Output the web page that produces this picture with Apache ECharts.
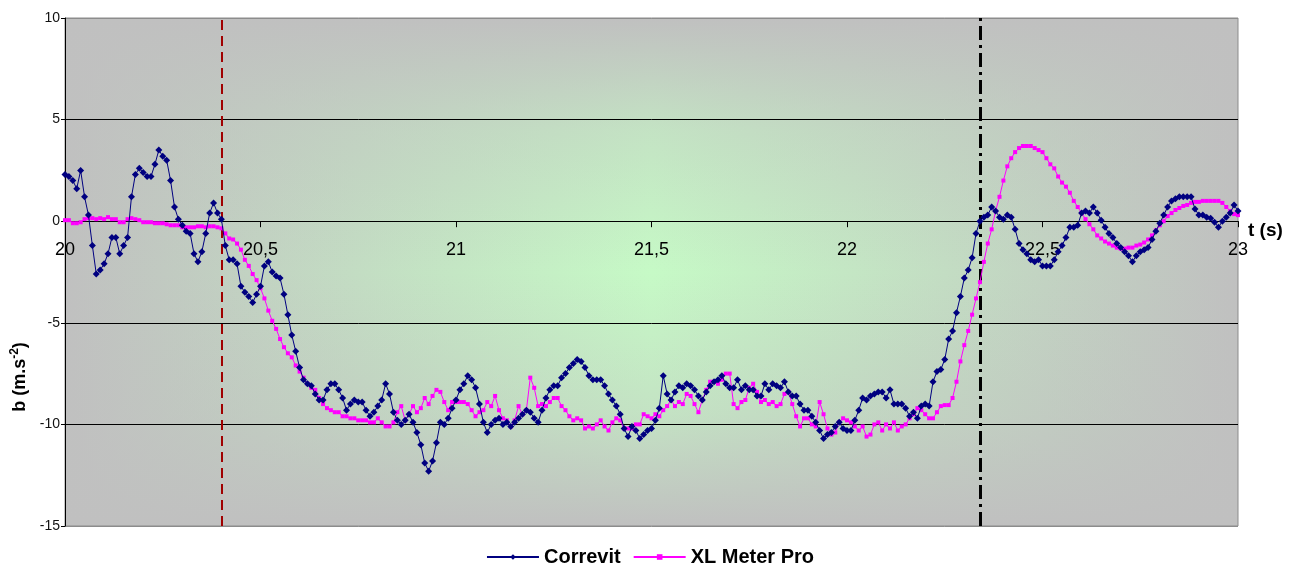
<!DOCTYPE html>
<html>
<head>
<meta charset="utf-8">
<script src="https://cdn.jsdelivr.net/npm/echarts@6/dist/echarts.min.js"></script>
<style>
html,body{margin:0;padding:0;background:#fff;}
#c{width:1300px;height:574px;}
</style>
</head>
<body>
<div id="c"></div>
<script>
// sampling of both recordings: t = T0 + i*DT
const T0 = 20.0;
const DT = 0.01;

const xTicks = [20, 20.5, 21, 21.5, 22, 22.5, 23];
const yTicks = [-15, -10, -5, 0, 5, 10];

// event markers (s)
const brakeStart = 20.403;
const brakeEnd = 22.345;

const seriesNames = ['Correvit', 'XL Meter Pro'];

const correvit = [
 2.3, 2.2, 2.0, 1.6, 2.5, 1.2, 0.3, -1.2, -2.6, -2.4,
 -2.1, -1.6, -0.8, -0.8, -1.6, -1.2, -0.8, 1.2, 2.3, 2.6,
 2.4, 2.2, 2.2, 2.8, 3.5, 3.2, 3.0, 2.0, 0.7, 0.1,
 -0.2, -0.5, -0.6, -1.6, -2.0, -1.5, -0.6, 0.4, 0.9, 0.4,
 0.1, -1.2, -1.9, -1.9, -2.1, -3.2, -3.5, -3.7, -4.0, -3.6,
 -3.2, -2.2, -2.0, -2.5, -2.7, -2.8, -3.6, -4.6, -5.6, -6.4,
 -7.2, -7.8, -8.0, -8.1, -8.5, -8.8, -8.8, -8.3, -8.0, -8.0,
 -8.3, -8.7, -9.3, -9.0, -8.8, -8.9, -8.9, -9.3, -9.6, -9.4,
 -9.1, -8.8, -8.0, -8.5, -9.4, -9.8, -10.0, -9.8, -9.5, -9.9,
 -10.4, -11.0, -11.9, -12.3, -11.8, -10.9, -9.9, -10.0, -9.7, -9.2,
 -8.8, -8.3, -8.0, -7.6, -7.8, -8.2, -9.0, -9.9, -10.4, -10.0,
 -9.8, -9.7, -10.0, -9.9, -10.1, -9.9, -9.7, -9.5, -9.3, -9.4,
 -9.7, -9.9, -9.3, -8.7, -8.3, -8.1, -8.1, -7.7, -7.5, -7.2,
 -7.0, -6.8, -6.9, -7.2, -7.6, -7.8, -7.8, -7.8, -8.1, -8.5,
 -8.8, -9.1, -9.5, -10.2, -10.6, -10.1, -10.3, -10.7, -10.5, -10.3,
 -10.2, -9.8, -9.2, -7.6, -8.5, -8.8, -8.4, -8.1, -8.2, -8.0,
 -8.1, -8.3, -8.6, -8.8, -8.4, -8.1, -7.9, -7.8, -7.6, -8.0,
 -8.2, -8.2, -7.8, -8.3, -8.1, -8.3, -8.3, -8.6, -8.6, -8.0,
 -8.3, -8.0, -8.1, -8.2, -7.9, -8.4, -8.6, -8.6, -9.0, -9.3,
 -9.3, -9.6, -9.9, -10.3, -10.7, -10.5, -10.4, -10.1, -9.9, -10.2,
 -10.3, -10.3, -9.8, -9.3, -8.7, -8.8, -8.6, -8.5, -8.4, -8.4,
 -8.7, -8.3, -9.0, -9.0, -9.0, -9.2, -9.6, -9.4, -9.7, -9.1,
 -9.0, -9.1, -7.9, -7.4, -7.3, -6.8, -5.8, -5.4, -4.5, -3.7,
 -2.8, -2.4, -1.8, -0.6, 0.0, 0.2, 0.3, 0.7, 0.5, 0.2,
 0.1, 0.3, 0.2, -0.4, -1.1, -1.4, -1.6, -1.9, -2.0, -1.9,
 -2.2, -2.2, -2.2, -1.9, -1.5, -1.2, -0.8, -0.3, -0.3, -0.2,
 0.4, 0.5, 0.4, 0.7, 0.4, 0.05, -0.3, -0.6, -0.8, -1.1,
 -1.3, -1.5, -1.7, -2.0, -1.7, -1.5, -1.4, -1.3, -0.9, -0.5,
 -0.1, 0.3, 0.7, 1.0, 1.1, 1.2, 1.2, 1.2, 1.2, 0.6,
 0.3, 0.3, 0.2, 0.15, -0.05, -0.3, 0.0, 0.2, 0.4, 0.8,
 0.5
];

const xlMeter = [
 0.05, 0.05, -0.1, -0.1, -0.05, 0.1, 0.15, 0.15, 0.1, 0.15,
 0.1, 0.2, 0.1, 0.1, -0.05, -0.05, 0.1, 0.15, 0.1, 0.05,
 -0.05, -0.05, -0.05, -0.1, -0.1, -0.1, -0.15, -0.2, -0.2, -0.2,
 -0.3, -0.3, -0.3, -0.3, -0.25, -0.25, -0.3, -0.25, -0.25, -0.3,
 -0.35, -0.6, -0.85, -0.9, -1.1, -1.4, -1.9, -2.2, -2.6, -2.9,
 -3.3, -3.8, -4.4, -4.9, -5.3, -5.8, -6.2, -6.5, -6.7, -7.1,
 -7.4, -7.7, -8.0, -8.2, -8.3, -8.7, -9.0, -9.2, -9.3, -9.4,
 -9.4, -9.6, -9.6, -9.7, -9.7, -9.8, -9.8, -9.8, -9.9, -9.9,
 -9.7, -9.9, -10.1, -10.1, -9.9, -9.4, -9.1, -9.8, -9.5, -9.1,
 -9.4, -9.2, -8.7, -9.0, -8.6, -8.3, -8.4, -8.9, -9.3, -8.9,
 -8.9, -8.9, -8.9, -9.0, -9.3, -9.6, -9.4, -9.3, -8.9, -9.1,
 -8.6, -9.3, -9.7, -9.8, -10.1, -9.8, -9.1, -9.5, -9.3, -7.7,
 -8.2, -9.1, -9.0, -9.1, -8.9, -8.7, -8.7, -9.1, -9.3, -9.6,
 -9.8, -9.7, -9.8, -10.2, -10.1, -10.2, -10.0, -9.8, -10.1, -10.3,
 -9.9, -9.7, -9.8, -10.2, -10.2, -10.2, -10.0, -10.0, -9.5, -9.6,
 -9.7, -9.5, -9.6, -9.3, -9.1, -8.8, -9.1, -8.9, -9.0, -8.5,
 -8.6, -9.0, -9.4, -8.8, -8.3, -7.9, -7.9, -8.0, -7.8, -7.5,
 -7.5, -9.0, -9.2, -8.9, -8.8, -8.2, -8.0, -8.4, -8.9, -8.8,
 -9.0, -8.9, -9.1, -9.0, -8.5, -8.4, -9.0, -9.6, -10.1, -9.7,
 -9.7, -10.0, -10.1, -8.9, -9.5, -10.2, -10.5, -10.4, -9.9, -9.7,
 -9.8, -9.9, -10.1, -10.3, -10.1, -10.6, -10.5, -10.0, -9.9, -10.3,
 -10.0, -10.2, -9.9, -10.3, -10.1, -10.0, -9.7, -9.5, -9.2, -9.3,
 -9.5, -9.7, -9.7, -9.4, -9.1, -9.05, -9.05, -8.7, -7.9, -6.9,
 -6.1, -5.4, -4.6, -3.8, -3.0, -2.0, -1.1, -0.4, 0.5, 1.2,
 2.0, 2.7, 3.1, 3.4, 3.6, 3.7, 3.7, 3.7, 3.6, 3.5,
 3.4, 3.1, 2.8, 2.6, 2.2, 1.9, 1.7, 1.4, 1.0, 0.7,
 0.4, 0.1, -0.15, -0.4, -0.7, -0.85, -1.0, -1.1, -1.2, -1.3,
 -1.35, -1.35, -1.3, -1.3, -1.2, -1.15, -1.05, -0.9, -0.7, -0.45,
 -0.2, 0.0, 0.25, 0.4, 0.55, 0.65, 0.75, 0.8, 0.9, 0.95,
 0.95, 1.0, 1.0, 1.0, 1.0, 1.0, 0.9, 0.7, 0.5, 0.35,
 0.3
];

function pairs(arr) {
  return arr.map((v, i) => [+(T0 + i * DT).toFixed(3), v]);
}

const chart = echarts.init(document.getElementById('c'), null, {renderer: 'canvas'});
const FONT = '"Liberation Sans", Arial, sans-serif';

const xMin = xTicks[0], xMax = xTicks[xTicks.length - 1];
const yMin = yTicks[0], yMax = yTicks[yTicks.length - 1];

const GRID = {left: 65, right: 62, top: 18, bottom: 48};
const plotH = 574 - GRID.top - GRID.bottom;
// shift the bottom axis up so that it sits on y = 0
const zeroOffset = -plotH * (0 - yMin) / (yMax - yMin);

chart.setOption({
  animation: false,
  textStyle: {fontFamily: FONT},
  grid: Object.assign({show: true, backgroundColor: 'transparent', borderColor: '#8c8c8c', borderWidth: 1, z: 0}, GRID),
  legend: {
    bottom: 2, left: 'center',
    itemWidth: 52, itemHeight: 7, itemGap: 12,
    textStyle: {fontSize: 20, fontWeight: 'bold', color: '#000', fontFamily: FONT},
    data: seriesNames
  },
  xAxis: {
    type: 'value', min: xMin, max: xMax, interval: 0.5, z: 5,
    position: 'bottom', offset: zeroOffset,
    name: 't (s)', nameLocation: 'end', nameGap: 10,
    nameTextStyle: {fontSize: 19, fontWeight: 'bold', color: '#000', verticalAlign: 'top'},
    axisLine: {onZero: false, lineStyle: {color: '#000', width: 1}},
    axisTick: {show: true, length: 6, lineStyle: {color: '#000'}},
    axisLabel: {fontSize: 18, color: '#000', margin: 20,
      formatter: v => String(v).replace('.', ',')},
    splitLine: {show: false}
  },
  yAxis: {
    type: 'value', min: yMin, max: yMax, interval: 5, z: 5,
    name: '{b|b (m.s}{s|-2}{b|)}', nameLocation: 'middle', nameGap: 32,
    nameTextStyle: {
      padding: [0, 210, 0, 0],
      rich: {
        b: {fontSize: 18, fontWeight: 'bold', color: '#000', fontFamily: FONT},
        s: {fontSize: 12, fontWeight: 'bold', color: '#000', fontFamily: FONT, padding: [0, 0, 10, 0]}
      }
    },
    axisLine: {show: true, lineStyle: {color: '#000', width: 1}},
    axisTick: {show: true, length: 4, lineStyle: {color: '#000'}},
    axisLabel: {fontSize: 14, color: '#111', margin: 5},
    splitLine: {show: true, lineStyle: {color: ['#8c8c8c', '#000', '#000', '#000', '#000', '#8c8c8c'], width: 1}}
  },
  series: [
    {
      name: '_bg', type: 'line', data: [], z: -1, zlevel: 0, silent: true,
      markArea: {
        silent: true, z: -1,
        data: [
          [{coord: [xMin, yMax], itemStyle: {color: new echarts.graphic.LinearGradient(0, 0, 1, 0, [
              {offset: 0, color: '#c0c0c0'}, {offset: 0.5, color: '#c6fac6'}, {offset: 1, color: '#c0c0c0'}])}},
           {coord: [xMax, yMin]}],
          [{coord: [xMin, yMax], itemStyle: {color: new echarts.graphic.LinearGradient(0, 0, 0, 1, [
              {offset: 0, color: 'rgba(192,192,192,1)'}, {offset: 0.22, color: 'rgba(192,192,192,0.4)'},
              {offset: 0.5, color: 'rgba(192,192,192,0)'},
              {offset: 0.78, color: 'rgba(192,192,192,0.4)'}, {offset: 1, color: 'rgba(192,192,192,1)'}])}},
           {coord: [xMax, yMin]}]
        ]
      }
    },
    {
      name: seriesNames[0], type: 'line', data: pairs(correvit), z: 7,
      symbol: 'diamond', symbolSize: 7, showAllSymbol: true,
      lineStyle: {color: '#000080', width: 1},
      itemStyle: {color: '#000080'}
    },
    {
      name: seriesNames[1], type: 'line', data: pairs(xlMeter), z: 6,
      symbol: 'rect', symbolSize: 4, showAllSymbol: true,
      lineStyle: {color: '#ff00ff', width: 1},
      itemStyle: {color: '#ff00ff'}
    },
    {
      name: '_marks', type: 'line', data: [], z: 8, silent: true,
      markLine: {
        silent: true, symbol: ['none', 'none'], label: {show: false},
        data: [
          {xAxis: brakeStart, lineStyle: {color: '#a00000', width: 2, type: [10, 6]}},
          {xAxis: brakeEnd, lineStyle: {color: '#000', width: 3, type: [14, 5, 3, 5]}}
        ]
      }
    }
  ]
});
</script>
</body>
</html>
